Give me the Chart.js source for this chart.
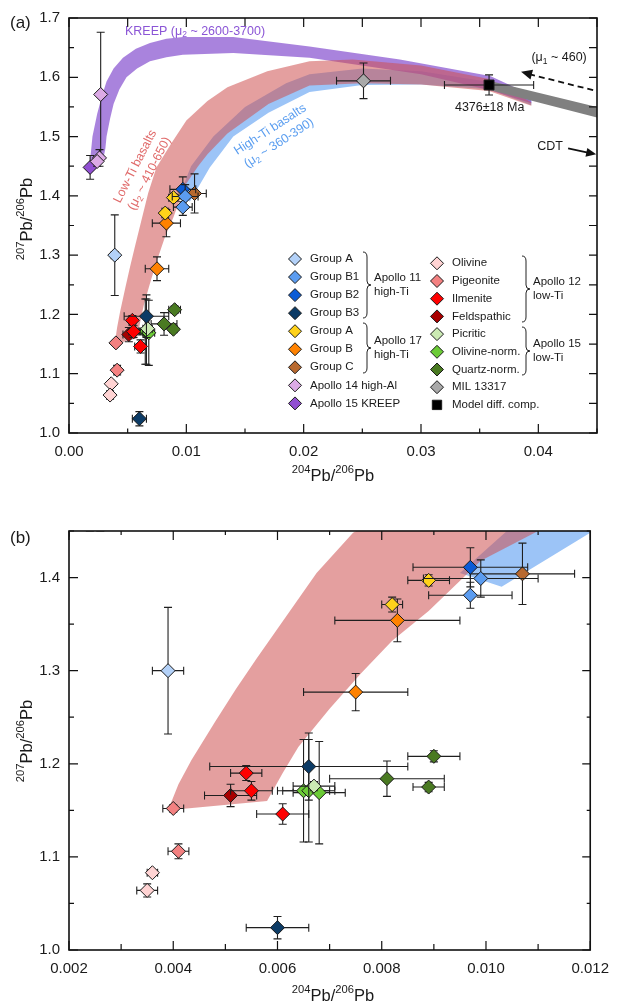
<!DOCTYPE html>
<html>
<head>
<meta charset="utf-8">
<script src="https://cdn.jsdelivr.net/npm/chart.js@4.4.1/dist/chart.umd.min.js"></script>
<style>
html, body { margin: 0; padding: 0; background: #fff; }
#wrapA { position: absolute; left: 0; top: 0; width: 619px; height: 500px; }
#wrapB { position: absolute; left: 0; top: 500px; width: 619px; height: 504px; }
</style>
</head>
<body>
<div id="wrapA"><canvas id="panelA" width="619" height="500"></canvas></div>
<div id="wrapB"><canvas id="panelB" width="619" height="504"></canvas></div>
<script>
// each point: [204Pb/206Pb, 207Pb/206Pb, x error, y error]
var apollo11A   = [[0.0039, 1.300, 0.0003, 0.068]];
var apollo11B1  = [[0.0099, 1.399, 0.0011, 0.020], [0.0097, 1.381, 0.0008, 0.014]];
var apollo11B2  = [[0.0097, 1.411, 0.0011, 0.021]];
var apollo11B3  = [[0.0066, 1.197, 0.0019, 0.036], [0.0060, 1.024, 0.0006, 0.012]];
var apollo17A   = [[0.0089, 1.397, 0.0004, 0.006], [0.0082, 1.371, 0.0002, 0.008]];
var apollo17B   = [[0.0083, 1.354, 0.0012, 0.023], [0.0075, 1.277, 0.0010, 0.020]];
var apollo17C   = [[0.0107, 1.404, 0.0010, 0.033]];
var apollo14    = [[0.0027, 1.571, 0.0001, 0.105], [0.0026, 1.464, 0.0002, 0.014], [0.0024, 1.458, 0.0001, 0.008]];
var apollo15K   = [[0.0018, 1.448, 0.0002, 0.020]];
var olivine     = [[0.0036, 1.083, 0.0001, 0.003], [0.0035, 1.064, 0.0002, 0.007]];
var pigeonite   = [[0.0040, 1.152, 0.0002, 0.004], [0.0041, 1.106, 0.0002, 0.008]];
var ilmenite    = [[0.0054, 1.190, 0.0003, 0.008], [0.0055, 1.171, 0.0004, 0.010], [0.0061, 1.146, 0.0005, 0.011]];
var feldspathic = [[0.0051, 1.166, 0.0005, 0.012]];
var picritic    = [[0.0067, 1.176, 0.0004, 0.005]];
var olivineNorm = [[0.0065, 1.171, 0.0005, 0.055], [0.0066, 1.171, 0.0005, 0.055], [0.0068, 1.169, 0.0005, 0.055]];
var quartzNorm  = [[0.0090, 1.208, 0.0005, 0.006], [0.0081, 1.184, 0.0011, 0.019], [0.0089, 1.175, 0.0003, 0.005]];
var mil13317    = [[0.0251, 1.594, 0.0023, 0.030]];
var modelComp   = [[0.0358, 1.587, 0.0038, 0.017]];

// model evolution bands, traced as outlines [x, y]
var kreepBand = [[0.0018, 1.460], [0.0020, 1.500], [0.0024, 1.538], [0.0028, 1.568], [0.0032, 1.593],
  [0.0038, 1.615], [0.0046, 1.633], [0.0057, 1.648], [0.0069, 1.658], [0.0083, 1.665], [0.0097, 1.668],
  [0.0140, 1.668], [0.0205, 1.652], [0.0282, 1.630], [0.0359, 1.602], [0.0394, 1.570],
  [0.0394, 1.556], [0.0359, 1.578], [0.0300, 1.605], [0.0205, 1.633], [0.0140, 1.641], [0.0097, 1.638],
  [0.0083, 1.634], [0.0069, 1.627], [0.0058, 1.615], [0.0049, 1.600], [0.0043, 1.580], [0.0038, 1.555],
  [0.0035, 1.530], [0.0032, 1.500], [0.0031, 1.480], [0.0029, 1.460]];
var lowTiBand = [[0.0039, 1.150], [0.0041, 1.178], [0.00435, 1.204], [0.0048, 1.245], [0.0052, 1.280],
  [0.0056, 1.313], [0.0060, 1.345], [0.00675, 1.405], [0.00745, 1.448], [0.0087, 1.488], [0.0100, 1.527],
  [0.0118, 1.560], [0.0135, 1.583], [0.0169, 1.610], [0.0205, 1.627], [0.0242, 1.630], [0.0300, 1.620],
  [0.0358, 1.597], [0.0394, 1.558], [0.0394, 1.552], [0.0358, 1.577], [0.0300, 1.588], [0.0250, 1.590],
  [0.0205, 1.586], [0.0170, 1.555], [0.0135, 1.505], [0.0118, 1.470], [0.0110, 1.450], [0.0099, 1.418],
  [0.0089, 1.364], [0.0082, 1.332], [0.0076, 1.297], [0.0070, 1.259], [0.0064, 1.218], [0.0061, 1.190],
  [0.0058, 1.160]];
var highTiBand = [[0.0095, 1.405], [0.0104, 1.450], [0.0123, 1.500], [0.0150, 1.550], [0.0185, 1.590],
  [0.0205, 1.605], [0.0250, 1.615], [0.0300, 1.610], [0.0358, 1.592], [0.0394, 1.565], [0.0394, 1.553],
  [0.0358, 1.580], [0.0300, 1.588], [0.0250, 1.587], [0.0205, 1.575], [0.0170, 1.540], [0.0140, 1.500],
  [0.0120, 1.448], [0.0103, 1.390]];
var modelBand = [[0.0358, 1.594], [0.0450, 1.550], [0.0450, 1.532], [0.0358, 1.579]];

var xTicksA = [0, 0.01, 0.02, 0.03, 0.04];
var xLabelsA = ['0.00', '0.01', '0.02', '0.03', '0.04'];
var yTicksA = [1.0, 1.1, 1.2, 1.3, 1.4, 1.5, 1.6, 1.7];
var yLabelsA = ['1.0', '1.1', '1.2', '1.3', '1.4', '1.5', '1.6', '1.7'];
var xTicksB = [0.002, 0.004, 0.006, 0.008, 0.010, 0.012];
var xLabelsB = ['0.002', '0.004', '0.006', '0.008', '0.010', '0.012'];
var yTicksB = [1.0, 1.1, 1.2, 1.3, 1.4];
var yLabelsB = ['1.0', '1.1', '1.2', '1.3', '1.4'];

var groupData = {
  apollo11A: apollo11A, apollo11B1: apollo11B1, apollo11B2: apollo11B2, apollo11B3: apollo11B3,
  apollo17A: apollo17A, apollo17B: apollo17B, apollo17C: apollo17C, apollo14: apollo14, apollo15K: apollo15K,
  olivine: olivine, pigeonite: pigeonite, ilmenite: ilmenite, feldspathic: feldspathic,
  picritic: picritic, olivineNorm: olivineNorm, quartzNorm: quartzNorm, mil13317: mil13317, modelComp: modelComp
};
var groupNames = {
  apollo11A: 'Group A', apollo11B1: 'Group B1', apollo11B2: 'Group B2', apollo11B3: 'Group B3',
  apollo17A: 'Group A', apollo17B: 'Group B', apollo17C: 'Group C',
  apollo14: 'Apollo 14 high-Al', apollo15K: 'Apollo 15 KREEP',
  olivine: 'Olivine', pigeonite: 'Pigeonite', ilmenite: 'Ilmenite', feldspathic: 'Feldspathic',
  picritic: 'Picritic', olivineNorm: 'Olivine-norm.', quartzNorm: 'Quartz-norm.',
  mil13317: 'MIL 13317', modelComp: 'Model diff. comp.'
};
var legendLeft = ['apollo11A', 'apollo11B1', 'apollo11B2', 'apollo11B3', 'apollo17A', 'apollo17B', 'apollo17C', 'apollo14', 'apollo15K'];
var legendRight = ['olivine', 'pigeonite', 'ilmenite', 'feldspathic', 'picritic', 'olivineNorm', 'quartzNorm', 'mil13317', 'modelComp'];
var braceLabels = [['Apollo 11', 'high-Ti'], ['Apollo 17', 'high-Ti'], ['Apollo 12', 'low-Ti'], ['Apollo 15', 'low-Ti']];

// colours only below here
var groupColors = {
  apollo11A: '#b3d1f8', apollo11B1: '#5b9cf0', apollo11B2: '#0b5bd6', apollo11B3: '#0c3b66',
  apollo17A: '#ffd21a', apollo17B: '#ff8200', apollo17C: '#b8692f', apollo14: '#dcaae6', apollo15K: '#9150d2',
  olivine: '#ffd3d3', pigeonite: '#f38181', ilmenite: '#ff0000', feldspathic: '#a80000',
  picritic: '#cbeab3', olivineNorm: '#6bcb36', quartzNorm: '#4a7a22', mil13317: '#a9a9a9', modelComp: '#000000'
};
var FONT = "'Liberation Sans', Arial, Helvetica, sans-serif";

function font(size) { return size + 'px ' + FONT; }

// text with super/subscripts, parts = [[text, ''|'sup'|'sub'], ...]
function richText(ctx, parts, x, y, size, align) {
  var small = size * 0.68, w = 0;
  parts.forEach(function (p) { ctx.font = font(p[1] ? small : size); w += ctx.measureText(p[0]).width; });
  var cx = align === 'center' ? x - w / 2 : (align === 'right' ? x - w : x);
  ctx.textAlign = 'left';
  ctx.textBaseline = 'alphabetic';
  parts.forEach(function (p) {
    ctx.font = font(p[1] ? small : size);
    var dy = p[1] === 'sup' ? -size * 0.46 : (p[1] === 'sub' ? size * 0.2 : 0);
    ctx.fillText(p[0], cx, y + dy);
    cx += ctx.measureText(p[0]).width;
  });
}

function pix(chart, x, y) {
  return [chart.scales.x.getPixelForValue(x), chart.scales.y.getPixelForValue(y)];
}

function marker(ctx, key, x, y, r) {
  ctx.beginPath();
  if (key === 'modelComp') {
    ctx.rect(x - r * 0.72, y - r * 0.72, r * 1.44, r * 1.44);
  } else {
    ctx.moveTo(x - r, y); ctx.lineTo(x, y - r); ctx.lineTo(x + r, y); ctx.lineTo(x, y + r); ctx.closePath();
  }
  ctx.fillStyle = groupColors[key];
  ctx.fill();
  ctx.strokeStyle = '#1a1a1a';
  ctx.lineWidth = 1;
  ctx.stroke();
}

function brace(ctx, x, y1, y2, w) {
  var m = (y1 + y2) / 2, h = w / 2;
  ctx.beginPath();
  ctx.moveTo(x, y1);
  ctx.quadraticCurveTo(x + h, y1, x + h, y1 + 5);
  ctx.lineTo(x + h, m - 4);
  ctx.quadraticCurveTo(x + h, m, x + w, m);
  ctx.quadraticCurveTo(x + h, m, x + h, m + 4);
  ctx.lineTo(x + h, y2 - 5);
  ctx.quadraticCurveTo(x + h, y2, x, y2);
  ctx.stroke();
}

function arrowHead(ctx, x0, y0, x1, y1, len, half) {
  var a = Math.atan2(y1 - y0, x1 - x0);
  ctx.beginPath();
  ctx.moveTo(x1, y1);
  ctx.lineTo(x1 - len * Math.cos(a) + half * Math.sin(a), y1 - len * Math.sin(a) - half * Math.cos(a));
  ctx.lineTo(x1 - len * Math.cos(a) - half * Math.sin(a), y1 - len * Math.sin(a) + half * Math.cos(a));
  ctx.closePath();
  ctx.fill();
}

// error bars, drawn just under each group's markers
var errorBars = {
  id: 'errorBars',
  beforeDatasetDraw: function (chart, args) {
    var ds = chart.data.datasets[args.index];
    if (!ds.err) return;
    var ctx = chart.ctx, a = chart.chartArea, xs = chart.scales.x, ys = chart.scales.y;
    ctx.save();
    ctx.beginPath();
    ctx.rect(a.left, a.top, a.right - a.left, a.bottom - a.top);
    ctx.clip();
    ctx.strokeStyle = '#1f1f1f';
    ctx.lineWidth = 1.1;
    ds.err.forEach(function (p) {
      var x = xs.getPixelForValue(p[0]), y = ys.getPixelForValue(p[1]);
      var x0 = xs.getPixelForValue(p[0] - p[2]), x1 = xs.getPixelForValue(p[0] + p[2]);
      var y0 = ys.getPixelForValue(p[1] - p[3]), y1 = ys.getPixelForValue(p[1] + p[3]);
      ctx.beginPath();
      ctx.moveTo(x0, y); ctx.lineTo(x1, y);
      ctx.moveTo(x, y0); ctx.lineTo(x, y1);
      ctx.moveTo(x0, y - 4); ctx.lineTo(x0, y + 4);
      ctx.moveTo(x1, y - 4); ctx.lineTo(x1, y + 4);
      ctx.moveTo(x - 4, y0); ctx.lineTo(x + 4, y0);
      ctx.moveTo(x - 4, y1); ctx.lineTo(x + 4, y1);
      ctx.stroke();
    });
    ctx.restore();
  }
};

function eachTick(min, max, minor, major, fn) {
  var n = Math.round((max - min) / minor);
  for (var i = 0; i <= n; i++) {
    var v = min + i * minor;
    fn(v, Math.abs(v / major - Math.round(v / major)) < 1e-6);
  }
}

// inward ticks on all four sides plus the box
function framePlugin(spec) {
  return {
    id: 'frame',
    afterDatasetsDraw: function (chart) {
      var ctx = chart.ctx, a = chart.chartArea, xs = chart.scales.x, ys = chart.scales.y;
      ctx.save();
      ctx.strokeStyle = '#111';
      ctx.lineWidth = 1.2;
      ctx.beginPath();
      eachTick(xs.min, xs.max, spec.xMinor, spec.xMajor, function (v, major) {
        var p = xs.getPixelForValue(v);
        ctx.moveTo(p, a.bottom); ctx.lineTo(p, a.bottom - (major ? spec.bottom[0] : spec.bottom[1]));
        ctx.moveTo(p, a.top); ctx.lineTo(p, a.top + (major ? spec.top[0] : spec.top[1]));
      });
      eachTick(ys.min, ys.max, spec.yMinor, spec.yMajor, function (v, major) {
        var p = ys.getPixelForValue(v);
        ctx.moveTo(a.left, p); ctx.lineTo(a.left + (major ? spec.left[0] : spec.left[1]), p);
        ctx.moveTo(a.right, p); ctx.lineTo(a.right - (major ? spec.right[0] : spec.right[1]), p);
      });
      ctx.stroke();
      ctx.lineWidth = 1.6;
      ctx.strokeRect(a.left, a.top, a.right - a.left, a.bottom - a.top);
      ctx.restore();
    }
  };
}

function axis(min, max, ticks, labels, isX, size) {
  return {
    type: 'linear', min: min, max: max,
    grid: { display: false, drawTicks: false },
    border: { display: false },
    afterBuildTicks: function (s) { s.ticks = ticks.map(function (v) { return { value: v }; }); },
    afterFit: function (s) { if (isX) s.height = size; else s.width = size; },
    ticks: {
      padding: isX ? 10 : 9, color: '#1a1a1a', font: { family: FONT, size: 15 },
      maxRotation: 0, autoSkip: false,
      callback: function (v, i) { return labels[i]; }
    }
  };
}

function bandSet(points, color, order) {
  return {
    type: 'line', data: points.map(function (p) { return { x: p[0], y: p[1] }; }),
    fill: 'shape', backgroundColor: color, borderColor: 'rgba(0,0,0,0)', borderWidth: 0,
    pointRadius: 0, tension: 0, order: order
  };
}

function pointSets() {
  return legendLeft.concat(legendRight).map(function (key) {
    return {
      type: 'scatter', label: groupNames[key],
      data: groupData[key].map(function (p) { return { x: p[0], y: p[1] }; }),
      err: groupData[key],
      pointStyle: key === 'modelComp' ? 'rect' : 'rectRot',
      pointRadius: 7, pointBackgroundColor: groupColors[key], pointBorderColor: '#1a1a1a',
      pointBorderWidth: 1, order: 0, clip: 0
    };
  });
}

function datasets() {
  return pointSets().concat([
    bandSet(modelBand, '#808080', 1),
    bandSet(lowTiBand, 'rgba(205,80,80,0.55)', 2),
    bandSet(kreepBand, 'rgba(140,90,210,0.75)', 3),
    bandSet(highTiBand, '#9cc4f7', 4)
  ]);
}

function yTitle(ctx, x, y) {
  ctx.save();
  ctx.translate(x, y);
  ctx.rotate(-Math.PI / 2);
  ctx.fillStyle = '#1a1a1a';
  richText(ctx, [['207', 'sup'], ['Pb/', ''], ['206', 'sup'], ['Pb', '']], 0, 0, 16.5, 'center');
  ctx.restore();
}

function xTitle(ctx, x, y) {
  ctx.fillStyle = '#1a1a1a';
  richText(ctx, [['204', 'sup'], ['Pb/', ''], ['206', 'sup'], ['Pb', '']], x, y, 16.5, 'center');
}

function rotatedLines(ctx, pos, angle, lines, size, gap, color) {
  ctx.save();
  ctx.translate(pos[0], pos[1]);
  ctx.rotate(angle * Math.PI / 180);
  ctx.fillStyle = color;
  richText(ctx, lines[0], 0, -gap / 2 + size * 0.35, size, 'center');
  richText(ctx, lines[1], 0, gap / 2 + size * 0.35, size, 'center');
  ctx.restore();
}

var decorA = {
  id: 'decorA',
  afterDraw: function (chart) {
    var ctx = chart.ctx, p;
    ctx.save();
    ctx.fillStyle = '#1a1a1a';
    ctx.font = font(17);
    ctx.textAlign = 'left';
    ctx.fillText('(a)', 10, 28);
    yTitle(ctx, 32, 219);
    xTitle(ctx, 333, 481);

    // band labels
    p = pix(chart, 0.00477, 1.6717);
    ctx.fillStyle = '#8b55d6';
    richText(ctx, [['KREEP (\u03bc', ''], ['2', 'sub'], [' ~ 2600-3700)', '']], p[0], p[1], 12.5, 'left');
    rotatedLines(ctx, pix(chart, 0.00618, 1.4442), -63,
      [[['Low-Ti basalts', '']], [['(\u03bc', ''], ['2', 'sub'], [' ~ 410-650)', '']]], 12.5, 16, '#e06a6a');
    rotatedLines(ctx, pix(chart, 0.01748, 1.5017), -33,
      [[['High-Ti basalts', '']], [['(\u03bc', ''], ['2', 'sub'], [' ~ 360-390)', '']]], 12.5, 16, '#5b9ef0');

    ctx.fillStyle = '#1a1a1a';
    p = pix(chart, 0.03585, 1.5433);
    richText(ctx, [['4376\u00b118 Ma', '']], p[0], p[1], 12.5, 'center');
    p = pix(chart, 0.04177, 1.6267);
    richText(ctx, [['(\u03bc', ''], ['1', 'sub'], [' ~ 460)', '']], p[0], p[1], 12.5, 'center');
    p = pix(chart, 0.0410, 1.4767);
    richText(ctx, [['CDT', '']], p[0], p[1], 12.5, 'center');

    // arrows
    var c0 = pix(chart, 0.04254, 1.480), c1 = pix(chart, 0.04493, 1.470);
    ctx.strokeStyle = '#111';
    ctx.fillStyle = '#111';
    ctx.lineWidth = 1.8;
    ctx.beginPath(); ctx.moveTo(c0[0], c0[1]); ctx.lineTo(c1[0] - 6, c1[1] - 1.2); ctx.stroke();
    arrowHead(ctx, c0[0], c0[1], c1[0], c1[1], 10, 4.5);
    var d0 = pix(chart, 0.04467, 1.5783), d1 = pix(chart, 0.03853, 1.6092);
    ctx.setLineDash([6, 4]);
    ctx.beginPath(); ctx.moveTo(d0[0], d0[1]); ctx.lineTo(d1[0] + 8, d1[1] + 2.3); ctx.stroke();
    ctx.setLineDash([]);
    arrowHead(ctx, d0[0], d0[1], d1[0], d1[1], 11, 5);

    // legend
    legendLeft.forEach(function (key, i) {
      var y = 259 + i * 18.05;
      marker(ctx, key, 295, y, 6.5);
      ctx.fillStyle = '#1a1a1a';
      ctx.font = font(11.5);
      ctx.textAlign = 'left';
      ctx.textBaseline = 'middle';
      ctx.fillText(groupNames[key], 310, y);
    });
    legendRight.forEach(function (key, i) {
      var y = 263.3 + i * 17.7;
      marker(ctx, key, 437, y, 6.5);
      ctx.fillStyle = '#1a1a1a';
      ctx.font = font(11.5);
      ctx.textAlign = 'left';
      ctx.textBaseline = 'middle';
      ctx.fillText(groupNames[key], 452, y);
    });
    ctx.strokeStyle = '#222';
    ctx.lineWidth = 1;
    var braces = [[363, 252, 318], [363, 323, 373], [522, 256, 322], [522, 327, 375]];
    braces.forEach(function (b, i) {
      brace(ctx, b[0], b[1], b[2], 8);
      var m = (b[1] + b[2]) / 2;
      ctx.fillStyle = '#1a1a1a';
      ctx.font = font(11.5);
      ctx.textBaseline = 'middle';
      ctx.fillText(braceLabels[i][0], b[0] + 11, m - 7.3);
      ctx.fillText(braceLabels[i][1], b[0] + 11, m + 7.3);
    });
    ctx.restore();
  }
};

var decorB = {
  id: 'decorB',
  afterDraw: function (chart) {
    var ctx = chart.ctx;
    ctx.save();
    ctx.fillStyle = '#1a1a1a';
    ctx.font = font(17);
    ctx.textAlign = 'left';
    ctx.textBaseline = 'alphabetic';
    ctx.fillText('(b)', 10, 43);
    yTitle(ctx, 32, 241);
    xTitle(ctx, 333, 501);
    ctx.restore();
  }
};

var baseOptions = function (pad, xs, ys) {
  return {
    responsive: false, animation: false, events: [],
    layout: { padding: pad },
    plugins: { legend: { display: false }, tooltip: { enabled: false } },
    scales: { x: xs, y: ys }
  };
};

new Chart(document.getElementById('panelA'), {
  type: 'scatter',
  data: { datasets: datasets() },
  options: baseOptions({ top: 13, right: 22, left: 0, bottom: 0 },
    axis(0, 0.045, xTicksA, xLabelsA, true, 67),
    axis(1.0, 1.7, yTicksA, yLabelsA, false, 69)),
  plugins: [errorBars,
    framePlugin({ xMinor: 0.005, xMajor: 0.01, yMinor: 0.05, yMajor: 0.1,
      bottom: [9, 4.5], top: [9, 9], left: [9, 5], right: [8, 8] }),
    decorA]
});

new Chart(document.getElementById('panelB'), {
  type: 'scatter',
  data: { datasets: datasets() },
  options: baseOptions({ top: 31, right: 22, left: 0, bottom: 0 },
    axis(0.002, 0.012, xTicksB, xLabelsB, true, 54),
    axis(1.0, 1.45, yTicksB, yLabelsB, false, 69)),
  plugins: [errorBars,
    framePlugin({ xMinor: 0.001, xMajor: 0.002, yMinor: 0.05, yMajor: 0.1,
      bottom: [9, 6], top: [9, 4], left: [9, 5], right: [8, 3.5] }),
    decorB]
});
</script>
</body>
</html>
